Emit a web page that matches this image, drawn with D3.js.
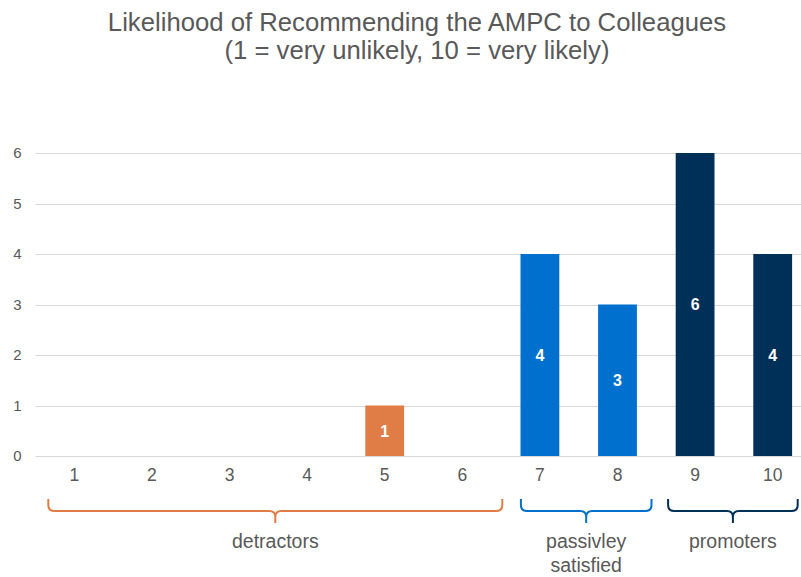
<!DOCTYPE html>
<html>
<head>
<meta charset="utf-8">
<script src="https://cdn.jsdelivr.net/npm/d3@7"></script>
<style>
  html, body { margin: 0; padding: 0; background: #fff; }
  svg { display: block; font-family: "Liberation Sans", Arial, sans-serif; }
</style>
</head>
<body>
<svg id="chart" width="801" height="577"></svg>
<script>
// Responses on a 1–10 scale
const scores = ["1", "2", "3", "4", "5", "6", "7", "8", "9", "10"];
const counts = [0, 0, 0, 0, 1, 0, 4, 3, 6, 4];
const yTicks = [0, 1, 2, 3, 4, 5, 6];

// Respondent groups shown with braces under the axis
const groupNames = ["detractors", "passivley satisfied", "promoters"];
const groupFirst = ["1", "7", "9"];
const groupLast = ["6", "8", "10"];

const titleLines = ["Likelihood of Recommending the AMPC to Colleagues", "(1 = very unlikely, 10 = very likely)"];

const colors = { detractors: "#E07D47", passive: "#0070CE", promoters: "#002F57" };
function scoreColor(s) {
  const v = +s;
  return v <= 6 ? colors.detractors : v <= 8 ? colors.passive : colors.promoters;
}
const groupColors = [colors.detractors, colors.passive, colors.promoters];
// how far each brace reaches past its outer bar centres, in px
const bracePad = [[26, 40], [19, 34], [27, 25]];

const svg = d3.select("#chart");
const W = 801, H = 577;
const margin = { top: 153, left: 35.5, bottom: 121 };
const plotRight = 811.5;
const textColor = "#595959";

const x = d3.scaleBand().domain(scores).range([margin.left, plotRight]).paddingInner(0.5).paddingOuter(0.25);
const y = d3.scaleLinear().domain([0, 6]).range([H - margin.bottom, margin.top]);
const cx = s => x(s) + x.bandwidth() / 2;

// Title
svg.append("g").selectAll("text").data(titleLines).join("text")
  .attr("x", 417).attr("y", (d, i) => 31 + i * 28)
  .attr("text-anchor", "middle")
  .attr("fill", textColor).attr("font-size", 25.7)
  .text(d => d);

// Gridlines
svg.append("g").selectAll("line").data(yTicks).join("line")
  .attr("x1", margin.left).attr("x2", W)
  .attr("y1", d => Math.round(y(d)) + 0.5).attr("y2", d => Math.round(y(d)) + 0.5)
  .attr("stroke", "#D9D9D9").attr("stroke-width", 1);

// Y axis labels
const yAxis = d3.axisLeft(y).tickValues(yTicks).tickFormat(d3.format("d")).tickSize(0).tickPadding(14);
svg.append("g").attr("transform", `translate(${margin.left},0)`).call(yAxis)
  .call(g => g.select(".domain").remove())
  .call(g => g.selectAll("text").attr("fill", textColor).attr("font-size", 15)
    .attr("font-family", "Liberation Sans, Arial, sans-serif"));

// X axis labels
const xAxis = d3.axisBottom(x).tickSize(0).tickPadding(13);
svg.append("g").attr("transform", `translate(0,${y(0)})`).call(xAxis)
  .call(g => g.select(".domain").remove())
  .call(g => g.selectAll("text").attr("fill", textColor).attr("font-size", 17.5)
    .attr("font-family", "Liberation Sans, Arial, sans-serif"));

// Bars
const data = scores.map((s, i) => ({ s, v: counts[i] })).filter(d => d.v > 0);
svg.append("g").selectAll("rect").data(data).join("rect")
  .attr("x", d => x(d.s)).attr("width", x.bandwidth())
  .attr("y", d => y(d.v)).attr("height", d => y(0) - y(d.v))
  .attr("fill", d => scoreColor(d.s));

// Value labels
svg.append("g").selectAll("text").data(data).join("text")
  .attr("x", d => cx(d.s))
  .attr("y", d => (y(d.v) + y(0)) / 2)
  .attr("dy", "0.36em")
  .attr("text-anchor", "middle")
  .attr("fill", "#fff").attr("font-weight", "bold").attr("font-size", 16)
  .text(d => d.v);

// Group braces
const braceTop = 499, braceMid = 511, braceTip = 523, r = 6;
const groups = groupNames.map((name, i) => ({
  name,
  x0: cx(groupFirst[i]) - bracePad[i][0],
  x1: cx(groupLast[i]) + bracePad[i][1],
  color: groupColors[i]
}));

function bracePath(g) {
  const xm = (g.x0 + g.x1) / 2;
  return `M${g.x0},${braceTop} V${braceMid - r} Q${g.x0},${braceMid} ${g.x0 + r},${braceMid}
    H${xm - r} Q${xm},${braceMid} ${xm},${braceMid + r} V${braceTip}
    M${xm},${braceMid + r} Q${xm},${braceMid} ${xm + r},${braceMid}
    H${g.x1 - r} Q${g.x1},${braceMid} ${g.x1},${braceMid - r} V${braceTop}`;
}
svg.append("g").selectAll("path").data(groups).join("path")
  .attr("d", bracePath).attr("fill", "none")
  .attr("stroke", d => d.color).attr("stroke-width", 2);

const labels = svg.append("g").selectAll("text").data(groups).join("text")
  .attr("x", d => (d.x0 + d.x1) / 2).attr("y", 548)
  .attr("text-anchor", "middle").attr("fill", textColor).attr("font-size", 19.5);
labels.each(function (d) {
  const t = d3.select(this);
  const xm = (d.x0 + d.x1) / 2;
  // the middle group's label wraps onto two lines
  const lines = d.name === groupNames[1] ? d.name.split(" ") : [d.name];
  lines.forEach((w, i) => t.append("tspan").attr("x", xm).attr("dy", i ? 24 : 0).text(w));
});
</script>
</body>
</html>
